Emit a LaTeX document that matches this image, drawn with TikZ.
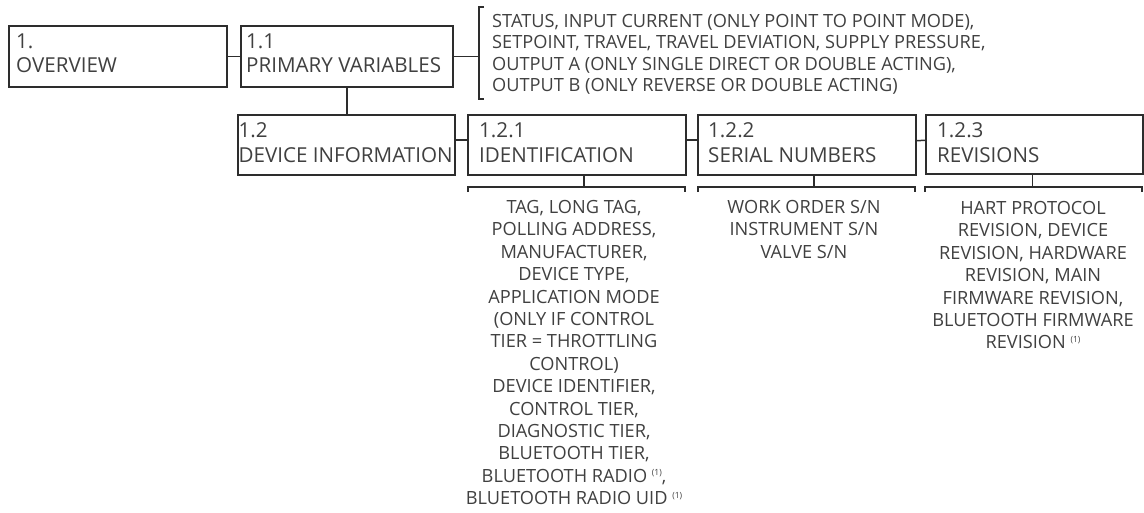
\documentclass[tikz,border=0pt]{standalone}
\usepackage{fontspec}
\setmainfont{Open Sans}
\definecolor{textc}{RGB}{64,64,64}
\definecolor{linec}{RGB}{45,45,45}
\newcommand{\fnmark}{\raisebox{6.5pt}{\fontsize{8.5}{8.5}\selectfont(1)}}
\tikzset{
  box/.style={draw=linec, line width=1.5pt, anchor=north west, inner sep=0pt, fill=white},
  boxlbl/.style={anchor=base west, inner sep=0pt, text=textc, align=left,
    font=\fontsize{20.6}{24.5}\selectfont},
  listtxt/.style={inner sep=0pt, text=textc, align=center,
    font=\fontsize{18.2}{22.4}\selectfont},
  conn/.style={draw=linec, line width=1.5pt},
}
\begin{document}
\begin{tikzpicture}[x=1pt,y=-1pt]
\useasboundingbox (0,0) rectangle (1144,512);
% boxes
\node[box, minimum width=218pt, minimum height=61pt] (ov) at (8,25) {};
\node[box, minimum width=212pt, minimum height=61pt] (pv) at (240,25) {};
\node[box, minimum width=217pt, minimum height=60pt] (di) at (237,114) {};
\node[box, minimum width=218pt, minimum height=60pt] (id) at (467,114) {};
\node[box, minimum width=218pt, minimum height=60pt] (sn) at (697,114) {};
\node[box, minimum width=217pt, minimum height=59pt] (rv) at (925,114) {};
% box labels (anchor = baseline of the last line)
\node[boxlbl] (ovt) at ([xshift=8pt,yshift=-47.5pt]ov.north west) {1.\\OVERVIEW};
\node[boxlbl] (pvt) at ([xshift=6pt,yshift=-47.5pt]pv.north west) {1.1\\PRIMARY VARIABLES};
\node[boxlbl] (dit) at ([xshift=1.5pt,yshift=-48pt]di.north west) {1.2\\DEVICE INFORMATION};
\node[boxlbl] (idt) at ([xshift=12pt,yshift=-48pt]id.north west) {1.2.1\\IDENTIFICATION};
\node[boxlbl] (snt) at ([xshift=11pt,yshift=-48pt]sn.north west) {1.2.2\\SERIAL NUMBERS};
\node[boxlbl] (rvt) at ([xshift=12pt,yshift=-48pt]rv.north west) {1.2.3\\REVISIONS};
% bracket corners
\coordinate (pvb1) at (484,7);
\coordinate (pvb2) at (479,7);
\coordinate (pvb3) at (479,99);
\coordinate (pvb4) at (484,99);
\coordinate (idb1) at (468,192);
\coordinate (idb2) at (468,187);
\coordinate (idb3) at (685,187);
\coordinate (idb4) at (685,192);
\coordinate (snb1) at (698,192);
\coordinate (snb2) at (698,187);
\coordinate (snb3) at (915,187);
\coordinate (snb4) at (915,192);
\coordinate (rvb1) at (925,192);
\coordinate (rvb2) at (925,187);
\coordinate (rvb3) at (1142,187);
\coordinate (rvb4) at (1142,192);
\draw[conn] (pvb1) -- (pvb2) -- (pvb3) -- (pvb4);
\draw[conn] (idb1) -- (idb2) -- (idb3) -- (idb4);
\draw[conn] (snb1) -- (snb2) -- (snb3) -- (snb4);
\draw[conn] (rvb1) -- (rvb2) -- (rvb3) -- (rvb4);
% connectors
\draw[conn] (ov.east) -- (pv.west);
\draw[conn] (pv.east) -- (pv.east -| pvb2);
\draw[conn] (pv.south) -- (pv.south |- di.north);
\draw[conn] ([yshift=5pt]di.east) -- ([yshift=5pt]id.west);
\draw[conn] ([yshift=5pt]id.east) -- ([yshift=5pt]sn.west);
\draw[conn] ([yshift=4pt]sn.east) -- ([yshift=4pt]rv.west);
\draw[conn] ([xshift=7pt]id.south) -- ([xshift=7pt]id.south |- idb2);
\draw[conn] ([xshift=7pt]sn.south) -- ([xshift=7pt]sn.south |- snb2);
\draw[conn] ([xshift=-2pt]rv.south) -- ([xshift=-2pt]rv.south |- rvb2);
% lists (anchor = baseline of the last line)
\node[listtxt, align=left, anchor=base west, font=\fontsize{18.2}{21.3}\selectfont] (pvl) at (492,91.4)
  {STATUS, INPUT CURRENT (ONLY POINT TO POINT MODE),\\
   SETPOINT, TRAVEL, TRAVEL DEVIATION, SUPPLY PRESSURE,\\
   OUTPUT A (ONLY SINGLE DIRECT OR DOUBLE ACTING),\\
   OUTPUT B (ONLY REVERSE OR DOUBLE ACTING)};
\node[listtxt, anchor=base] (idl) at (574,504.7)
  {TAG, LONG TAG,\\
   POLLING ADDRESS,\\
   MANUFACTURER,\\
   DEVICE TYPE,\\
   APPLICATION MODE\\
   (ONLY IF CONTROL\\
   TIER = THROTTLING\\
   CONTROL)\\
   DEVICE IDENTIFIER,\\
   CONTROL TIER,\\
   DIAGNOSTIC TIER,\\
   BLUETOOTH TIER,\\
   BLUETOOTH RADIO \fnmark,\\
   BLUETOOTH RADIO UID \fnmark};
\node[listtxt, anchor=base] (snl) at (804,258.3)
  {WORK ORDER S/N\\
   INSTRUMENT S/N\\
   VALVE S/N};
\node[listtxt, anchor=base] (rvl) at (1033,348.9)
  {HART PROTOCOL\\
   REVISION, DEVICE\\
   REVISION, HARDWARE\\
   REVISION, MAIN\\
   FIRMWARE REVISION,\\
   BLUETOOTH FIRMWARE\\
   REVISION \fnmark};
\end{tikzpicture}
\end{document}
